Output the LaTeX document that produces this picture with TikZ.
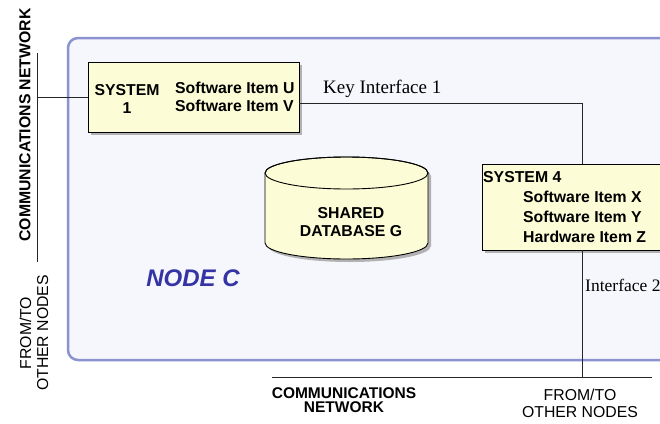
\documentclass[tikz,border=0pt]{standalone}
\usepackage{fontspec}
\setmainfont{Liberation Serif}
\setsansfont{Liberation Sans}
\usetikzlibrary{shadows}

\definecolor{nodeline}{HTML}{8A93CF}
\definecolor{nodefill}{HTML}{F6F7FD}
\definecolor{boxfill}{HTML}{FCFCD6}
\definecolor{nodetext}{HTML}{3434A4}

\tikzset{
  sysbox/.style={draw, line width=0.9pt, fill=boxfill, inner sep=0pt,
    drop shadow={shadow xshift=3pt, shadow yshift=-3pt, fill=gray!60, opacity=1}},
  boxtext/.style={font=\fontsize{15.8}{18}\selectfont\sffamily\bfseries, inner sep=0pt},
  ifacetext/.style={font=\fontsize{19}{22}\selectfont\rmfamily, inner sep=0pt},
  wire/.style={line width=0.9pt, black!85}
}

\begin{document}
\begin{tikzpicture}[x=1pt, y=-1pt]
\useasboundingbox (0,0) rectangle (660,423);
\clip (0,0) rectangle (660,423);
\fill[white] (0,0) rectangle (660,423);

% node C frame
\node at (394,199) (nodec) [draw=nodeline, line width=2.5pt, fill=nodefill,
  rounded corners=10pt, minimum width=652pt, minimum height=322pt] {};
\node at (193,278) (nodelabel) [font=\fontsize{24}{28}\selectfont\sffamily\bfseries\itshape,
  text=nodetext] {NODE C};

% systems
\node at (193.5,97) (sys1) [sysbox, minimum width=211pt, minimum height=70pt] {};
\node at (127,99) (sys1name) [boxtext, align=center] {SYSTEM\\1};
\node at (175,97) (sys1items) [boxtext, anchor=west, align=left]
  {Software Item U\\Software Item V};

\node at (592,207) (sys4) [sysbox, minimum width=220pt, minimum height=86pt] {};
\node at (483,177) (sys4name) [boxtext, anchor=west] {SYSTEM 4};
\node at (523,217) (sys4items) [boxtext, anchor=west, align=left,
  font=\fontsize{15.8}{20}\selectfont\sffamily\bfseries]
  {Software Item X\\Software Item Y\\Hardware Item Z};

% database
\begin{scope}[shift={(3,3)}]
  \fill[gray!60] (265,173) -- (265,243) arc (180:0:81.5 and 16) -- (428,173)
    arc (0:-180:81.5 and 16) -- cycle;
\end{scope}
\draw[line width=0.9pt, fill=boxfill] (265,173) -- (265,243) arc (180:0:81.5 and 16)
  -- (428,173) arc (0:-180:81.5 and 16) -- cycle;
\draw[line width=0.9pt] (346.5,173) ellipse (81.5 and 16);
\coordinate (db) at (346.5,208);
\node at (351,222) (dbname) [boxtext, align=center] {SHARED\\DATABASE G};

% network lines
\coordinate (nettop) at (37,53);
\coordinate (netbot) at (37,262);
\coordinate (netjoin) at (37,97);
\coordinate (k4) at (582,164);
\coordinate (i2top) at (582,250);
\coordinate (i2bot) at (582,377);
\coordinate (busleft) at (272,377);
\coordinate (busright) at (652,377);

\draw[wire] (nettop) -- (netbot);
\draw[wire] (netjoin) -- (sys1.west);
\draw[wire] ([yshift=-6pt]sys1.east) -| (k4);
\draw[wire] (i2top) -- (i2bot);
\draw[wire] (busleft) -- (busright);

\node at (323,89) (key1) [ifacetext, anchor=west] {Key Interface 1};
\node at (585,285) (iface2) [ifacetext, anchor=west,
  font=\fontsize{17.5}{20}\selectfont\rmfamily] {Interface 2};

% outside labels
\node at (25,125) (netleft) [rotate=90, boxtext] {COMMUNICATIONS NETWORK};
\node at (34,333) (otherleft) [rotate=90, align=center, inner sep=0pt,
  font=\fontsize{15.8}{17}\selectfont\sffamily] {FROM/TO\\OTHER NODES};
\node at (344,400) (netbottom) [align=center, inner sep=0pt,
  font=\fontsize{15.5}{14.5}\selectfont\sffamily\bfseries] {COMMUNICATIONS\\NETWORK};
\node at (580,403) (otherbottom) [align=center, inner sep=0pt,
  font=\fontsize{15.8}{17}\selectfont\sffamily] {FROM/TO\\OTHER NODES};
\end{tikzpicture}
\end{document}
